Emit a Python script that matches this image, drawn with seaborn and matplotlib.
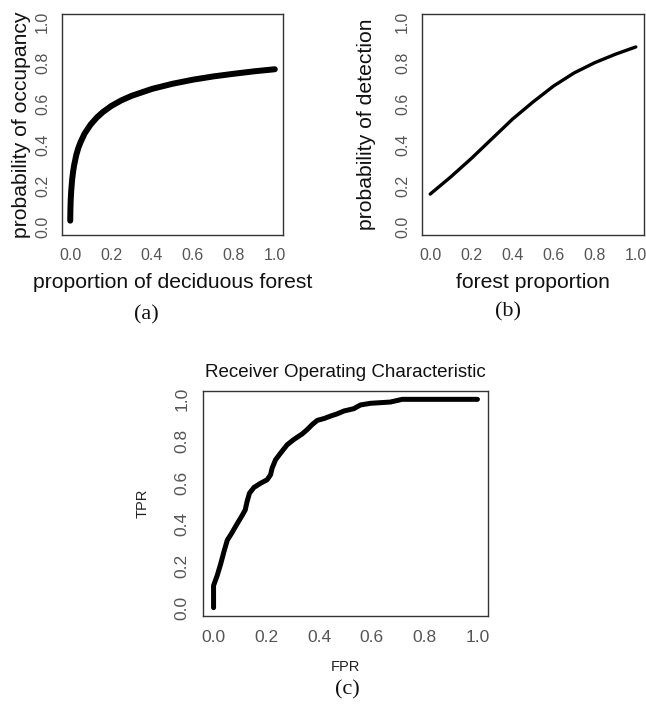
import matplotlib
matplotlib.use("Agg")
import matplotlib.pyplot as plt
import seaborn as sns

# ---- data ----
occ_x = [0.0003, 0.001, 0.002, 0.003, 0.005, 0.007, 0.01, 0.015, 0.02, 0.03, 0.04, 0.05,
         0.07, 0.1, 0.13, 0.16, 0.2, 0.25, 0.3, 0.4, 0.5, 0.6, 0.7, 0.8, 0.9, 1.0]
occ_y = [0.03, 0.08, 0.115, 0.14, 0.175, 0.20, 0.235, 0.275, 0.305, 0.352, 0.386, 0.412,
         0.455, 0.5, 0.534, 0.561, 0.59, 0.618, 0.64, 0.674, 0.699, 0.719, 0.735, 0.748, 0.76, 0.77]

det_x = [0.0, 0.1, 0.2, 0.3, 0.4, 0.5, 0.6, 0.7, 0.8, 0.9, 1.0]
det_y = [0.16, 0.244, 0.334, 0.43, 0.526, 0.61, 0.688, 0.752, 0.802, 0.843, 0.879]

fpr = [0, 0, 0.014, 0.027, 0.039, 0.052, 0.068, 0.09, 0.109, 0.12, 0.127, 0.136, 0.153,
       0.178, 0.203, 0.216, 0.222, 0.235, 0.254, 0.279, 0.304, 0.336, 0.355, 0.374, 0.393,
       0.419, 0.444, 0.468, 0.494, 0.531, 0.557, 0.595, 0.67, 0.715, 0.795, 1.0]
tpr = [0, 0.106, 0.155, 0.21, 0.267, 0.324, 0.356, 0.404, 0.444, 0.469, 0.509, 0.549, 0.577,
       0.597, 0.614, 0.638, 0.67, 0.71, 0.742, 0.782, 0.807, 0.834, 0.855, 0.879, 0.899,
       0.908, 0.92, 0.93, 0.944, 0.955, 0.973, 0.981, 0.987, 1.0, 1.0, 1.0]

ticks = [0.0, 0.2, 0.4, 0.6, 0.8, 1.0]
tick_labels = ["0.0", "0.2", "0.4", "0.6", "0.8", "1.0"]

sns.set_style("white")
plt.rcParams['font.family'] = ['Liberation Sans', 'DejaVu Sans']

W, H = 646, 706
fig = plt.figure(figsize=(W / 100, H / 100), dpi=100)


def ax_px(left, top, right, bottom):
    return fig.add_axes([left / W, 1 - bottom / H, (right - left) / W, (bottom - top) / H])


def style(ax, tick_size, tick_len, xpad, ypad):
    ax.set_xlim(-0.04, 1.04)
    ax.set_ylim(-0.04, 1.04)
    ax.set_xticks(ticks)
    ax.set_yticks(ticks)
    ax.set_xticklabels(tick_labels)
    ax.set_yticklabels(tick_labels, rotation=90, va='center')
    for s in ax.spines.values():
        s.set_visible(True)
        s.set_color('#333333')
        s.set_linewidth(1.0)
    ax.tick_params(axis='both', direction='out', length=tick_len, width=1.0, color='#333333',
                   labelsize=tick_size, labelcolor='#555555')
    ax.tick_params(axis='x', pad=xpad)
    ax.tick_params(axis='y', pad=ypad)
    ax.set_xlabel("")
    ax.set_ylabel("")


# (a)
axa = ax_px(62, 14, 283, 235)
sns.lineplot(x=occ_x, y=occ_y, ax=axa, color='black', linewidth=4.3, sort=False,
             estimator=None, solid_capstyle='round')
style(axa, 11.5, 5.5, 4.0, 3.0)
axa.set_xlabel("proportion of deciduous forest", fontsize=15.2, color='#111111')
axa.set_ylabel("probability of occupancy", fontsize=15.2, color='#111111')
axa.xaxis.set_label_coords(0.5, (235 - 282) / 221)
axa.xaxis.label.set_va('center')
axa.yaxis.set_label_coords((22 - 62) / 221, 0.5)
axa.yaxis.label.set_va('center')

# (b)
axb = ax_px(422, 14, 644, 235)
sns.lineplot(x=det_x, y=det_y, ax=axb, color='black', linewidth=2.4, sort=False,
             estimator=None, solid_capstyle='round')
style(axb, 11.5, 5.5, 4.0, 3.0)
axb.set_xlabel("forest proportion", fontsize=15.2, color='#111111')
axb.set_ylabel("probability of detection", fontsize=15.2, color='#111111')
axb.xaxis.set_label_coords(0.5, (235 - 282) / 221)
axb.xaxis.label.set_va('center')
axb.yaxis.set_label_coords((367 - 422) / 222, 0.5)
axb.yaxis.label.set_va('center')

# (c)
axc = ax_px(203, 391, 488, 616)
sns.lineplot(x=fpr, y=tpr, ax=axc, color='black', linewidth=3.6, sort=False,
             estimator=None, solid_capstyle='round')
style(axc, 12.5, 5.5, 4.5, 4.0)
axc.set_xlabel("FPR", fontsize=10.5, color='#222222')
axc.set_ylabel("TPR", fontsize=10.5, color='#222222')
axc.xaxis.set_label_coords(0.5, (616 - 667) / 225)
axc.xaxis.label.set_va('center')
axc.yaxis.set_label_coords((143 - 203) / 285, 0.5)
axc.yaxis.label.set_va('center')
axc.set_title("Receiver Operating Characteristic", fontsize=13.5, color='#111111', pad=0,
              y=(616 - 373) / 225, va='center')

# sub-captions
for txt, x, y in [("(a)", 146, 315), ("(b)", 508, 312), ("(c)", 347, 690)]:
    fig.text(x / W, 1 - y / H, txt, ha='center', va='center', fontsize=16,
             family=['Liberation Serif', 'DejaVu Serif'], color='#111111')

fig.savefig("out.png", dpi=100)
